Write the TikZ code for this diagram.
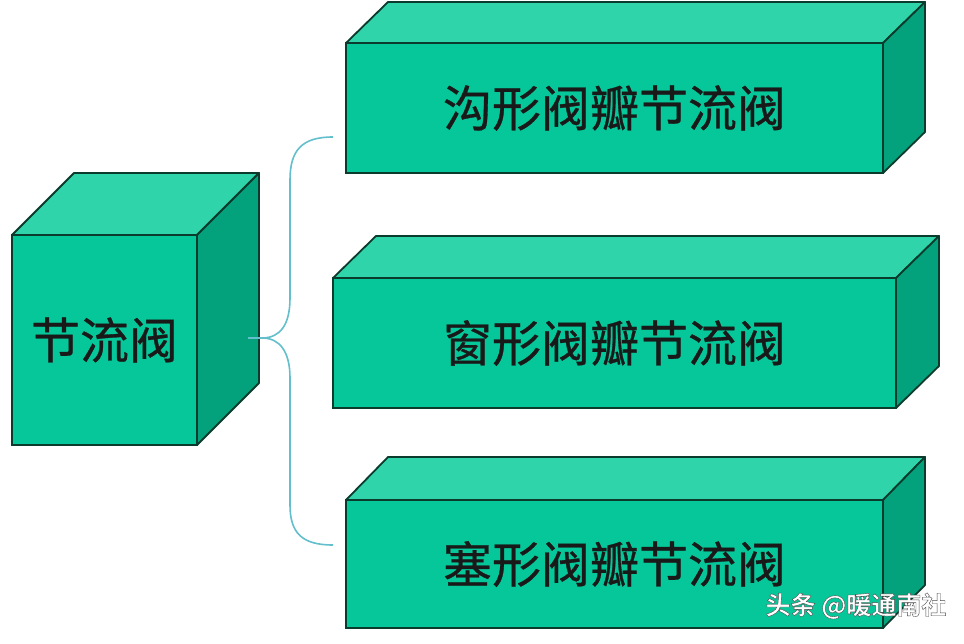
\documentclass[tikz,border=0pt]{standalone}
\usepackage{fontspec}
\setmainfont{Noto Sans CJK SC}
\newfontfamily\labelfont[FakeBold=0.6]{Noto Sans CJK SC}
\newfontfamily\wmfont[FakeBold=1.6]{Noto Sans CJK SC Bold}
\definecolor{frontc}{HTML}{05C799}
\definecolor{topc}{HTML}{30D4AA}
\definecolor{sidec}{HTML}{03A27C}
\definecolor{edgec}{HTML}{0B3B2C}
\definecolor{bracec}{HTML}{62BFCB}
\tikzset{
  front/.style={draw=edgec, line width=1.8pt, fill=frontc, inner sep=0pt, outer sep=0pt, font=\labelfont\fontsize{49}{49}\selectfont, text=black!90},
  topface/.style={draw=edgec, line width=1.8pt, fill=topc, line join=round},
  sideface/.style={draw=edgec, line width=1.8pt, fill=sidec, line join=round},
  bracel/.style={draw=bracec, line width=1.6pt},
  wmark/.style={font=\wmfont\fontsize{25}{25}\selectfont, inner sep=0pt}
}
\newcommand\mybox[8]{%
  % #1 name, #2 cx, #3 cy, #4 w, #5 h, #6 dx, #7 dy, #8 text
  \node[front, minimum width=#4pt, minimum height=#5pt] (#1) at (#2,#3) {#8};
  \draw[topface] (#1.north west) -- ++(#6,-#7) -- ++(#4,0) -- (#1.north east) -- cycle;
  \draw[sideface] (#1.north east) -- ++(#6,-#7) -- ++(0,#5) -- (#1.south east) -- cycle;
}
\newcommand\outlinetext[1]{\color{white}\special{pdf:code 0.3 0.3 0.3 RG}#1}
\begin{document}
\begin{tikzpicture}[x=1pt,y=-1pt]
\useasboundingbox (0,0) rectangle (964,644);
\fill[white] (0,0) rectangle (964,644);
\mybox{main}{104.5}{340}{185}{210}{62}{62}{节流阀}
\mybox{b1}{614.5}{108}{537}{130}{42}{41}{沟形阀瓣节流阀}
\mybox{b2}{614.5}{343}{563}{130}{43}{42}{窗形阀瓣节流阀}
\mybox{b3}{614.5}{564}{537}{128}{42}{43}{塞形阀瓣节流阀}
\coordinate (tip) at (262,338);
\coordinate (tipin) at (248,338);
\coordinate (e1) at (333,137);
\coordinate (e3) at (333,545);
\draw[bracel] (e1) .. controls (302,137) and (290,150) .. (290,180) -- (290,298)
  .. controls (290,325) and (280,338) .. (tip) -- (tipin);
\draw[bracel] (tip) .. controls (280,338) and (290,352) .. (290,378) -- (290,505)
  .. controls (290,533) and (302,545) .. (e3);
\node[wmark] (wm) at (856,606) {\outlinetext{头条 @暖通南社}};
\end{tikzpicture}
\end{document}
